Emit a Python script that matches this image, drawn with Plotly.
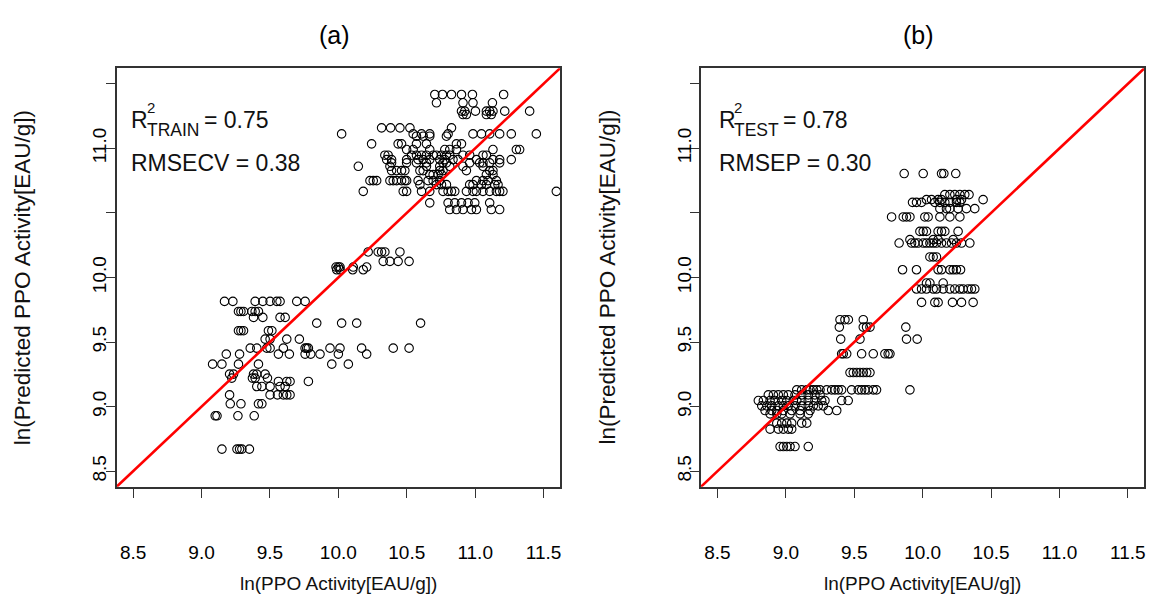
import plotly.graph_objects as go

# ---------------- data ----------------
# Panel (a): training set, grouped by predicted level (y) -> measured values (x)
train_levels = [11.417, 11.353, 11.288, 11.262, 11.159, 11.112, 11.094, 11.035, 10.991, 10.947,
                10.913, 10.888, 10.861, 10.828, 10.797, 10.750, 10.719, 10.667, 10.578, 10.526,
                10.198, 10.125, 10.081, 10.060, 9.815, 9.737, 9.691, 9.647, 9.588, 9.523,
                9.453, 9.407, 9.329, 9.252, 9.221, 9.195, 9.156, 9.091, 9.022, 8.929, 8.671]
train_rows = [
    [10.705, 10.761, 10.827, 10.900, 10.980, 11.208],
    [10.717, 10.911, 10.984, 11.126],
    [10.900, 10.924, 11.002, 11.082, 11.106, 11.130, 11.216, 11.398],
    [10.911, 10.936, 11.082, 11.118],
    [10.316, 10.382, 10.450, 10.523, 10.827],
    [10.024, 10.547, 10.608, 10.668, 10.802, 10.984, 11.046, 11.106, 11.179, 11.264, 11.447],
    [10.571, 10.620, 10.668, 10.790],
    [10.243, 10.437, 10.462, 10.571, 10.644, 10.863, 10.900],
    [10.499, 10.547, 10.668, 10.778, 10.814, 10.863, 11.130, 11.301, 11.325],
    [10.340, 10.364, 10.535, 10.571, 10.608, 10.644, 10.693, 10.717, 10.754, 10.790, 10.814, 10.911, 10.960, 11.057, 11.082],
    [10.353, 10.389, 10.499, 10.583, 10.620, 10.668, 10.741, 10.778, 10.838, 10.875, 11.009, 11.130, 11.179, 11.264],
    [10.389, 10.499, 10.571, 10.644, 10.765, 10.790, 10.960, 11.033, 11.057, 11.106, 11.179],
    [10.146, 10.377, 10.644, 10.741, 10.814, 10.911, 11.057],
    [10.389, 10.426, 10.462, 10.486, 10.596, 10.620, 10.741, 10.765, 10.936, 11.106, 11.130],
    [10.668, 10.693, 10.729, 10.754, 11.082, 11.130],
    [10.231, 10.255, 10.280, 10.377, 10.401, 10.426, 10.462, 10.486, 10.499, 10.583, 10.656, 10.693, 10.741, 11.009, 11.057, 11.094, 11.155],
    [10.596, 10.717, 10.754, 10.790, 10.960, 10.984, 11.046, 11.082, 11.143, 11.167],
    [10.182, 10.474, 10.499, 10.608, 10.668, 10.765, 10.802, 10.827, 10.851, 10.936, 10.984, 11.009, 11.057, 11.106, 11.155, 11.179, 11.203, 11.593],
    [10.668, 10.802, 10.851, 10.900, 10.948, 10.997, 11.106],
    [10.814, 10.863, 10.911, 10.973, 11.009, 11.118, 11.179],
    [10.218, 10.291, 10.316, 10.340, 10.450],
    [10.328, 10.377, 10.437, 10.517],
    [9.983, 10.000, 10.012, 10.109, 10.207],
    [9.988, 10.012, 10.105, 10.182],
    [9.168, 9.229, 9.392, 9.448, 9.501, 9.550, 9.574, 9.696, 9.757],
    [9.270, 9.288, 9.307, 9.368, 9.392, 9.416],
    [9.380, 9.448, 9.574, 9.611],
    [9.842, 10.024, 10.134, 10.601],
    [9.270, 9.288, 9.307, 9.489, 9.514],
    [9.465, 9.501, 9.623, 9.715],
    [9.356, 9.404, 9.477, 9.501, 9.598, 9.757, 9.769, 9.781, 9.939, 10.012, 10.170, 10.401, 10.517],
    [9.181, 9.278, 9.562, 9.642, 9.757, 9.798, 9.866, 10.000, 10.207],
    [9.081, 9.149, 9.270, 9.416, 9.952, 10.073],
    [9.205, 9.234, 9.380, 9.404, 9.465],
    [9.221, 9.372, 9.392, 9.482],
    [9.562, 9.623, 9.647, 9.781],
    [9.404, 9.441, 9.501, 9.574, 9.611],
    [9.205, 9.501, 9.555, 9.598, 9.623, 9.647],
    [9.210, 9.288, 9.416, 9.441],
    [9.100, 9.113, 9.266, 9.385],
    [9.149, 9.259, 9.278, 9.295, 9.350],
]

# Panel (b): test set
test_levels = [10.805, 10.642, 10.603, 10.582, 10.533, 10.469, 10.357, 10.293, 10.267, 10.159,
               10.060, 9.957, 9.911, 9.807, 9.673, 9.616, 9.523, 9.409, 9.264, 9.130,
               9.091, 9.047, 9.006, 8.970, 8.944, 8.872, 8.826, 8.691]
test_rows = [
    [9.865, 10.004, 10.138, 10.155, 10.242],
    [10.162, 10.199, 10.235, 10.272, 10.308, 10.339],
    [10.028, 10.065, 10.113, 10.138, 10.247, 10.284, 10.442],
    [9.926, 9.955, 9.992, 10.089, 10.126, 10.162, 10.199, 10.247, 10.272],
    [10.126, 10.174, 10.199, 10.259, 10.320, 10.381],
    [9.773, 9.858, 9.882, 9.907, 10.016, 10.040, 10.126, 10.199, 10.272],
    [9.980, 10.004, 10.028, 10.113, 10.138, 10.162, 10.259],
    [9.907, 10.077, 10.113, 10.223],
    [9.828, 9.919, 9.943, 9.967, 10.004, 10.028, 10.053, 10.077, 10.101, 10.138, 10.174, 10.211, 10.247, 10.284, 10.345],
    [10.053, 10.077, 10.101],
    [9.853, 9.955, 10.113, 10.138, 10.199, 10.223, 10.247, 10.277],
    [10.028, 10.053, 10.150],
    [9.955, 9.992, 10.028, 10.077, 10.101, 10.150, 10.199, 10.235, 10.272, 10.296, 10.332, 10.357, 10.381],
    [9.992, 10.089, 10.113, 10.218, 10.284, 10.369],
    [9.396, 9.432, 9.457, 9.566],
    [9.391, 9.566, 9.590, 9.615, 9.877],
    [9.401, 9.542, 9.882, 9.960],
    [9.408, 9.420, 9.445, 9.554, 9.639, 9.724, 9.748, 9.761],
    [9.469, 9.493, 9.518, 9.542, 9.566, 9.591, 9.615],
    [9.080, 9.116, 9.153, 9.177, 9.201, 9.226, 9.250, 9.299, 9.335, 9.359, 9.383, 9.408, 9.481, 9.529, 9.554, 9.578, 9.602, 9.639, 9.663, 9.907],
    [8.872, 8.909, 8.945, 8.982, 9.018, 9.067, 9.116, 9.164, 9.213, 9.250],
    [8.799, 8.836, 8.885, 8.921, 8.970, 9.007, 9.055, 9.080, 9.116, 9.164, 9.213, 9.262, 9.286, 9.408, 9.456],
    [8.824, 8.861, 8.897, 8.945, 8.982, 9.018, 9.067, 9.116, 9.164, 9.201, 9.237, 9.274],
    [8.848, 8.897, 8.934, 8.982, 9.043, 9.104, 9.177, 9.310, 9.372],
    [8.885, 8.934, 8.970, 9.031, 9.104, 9.164],
    [8.934, 8.970, 9.007, 9.043, 9.116, 9.153],
    [8.885, 8.945, 8.982, 9.018, 9.043],
    [8.958, 8.982, 9.007, 9.031, 9.067, 9.164],
]

tick_vals = [8.5, 9.0, 9.5, 10.0, 10.5, 11.0, 11.5]
x_tick_text = ["8.5", "9.0", "9.5", "10.0", "10.5", "11.0", "11.5"]
y_tick_text = ["8.5", "9.0", "9.5", "10.0", "", "11.0", ""]
axis_range = [8.38, 11.62]
identity_line = [8.3, 11.7]

panel_titles = ["(a)", "(b)"]
stat_subscripts = ["TRAIN", "TEST"]
stat_r2 = ["= 0.75", "= 0.78"]
stat_err = ["RMSECV = 0.38", "RMSEP = 0.30"]
x_title = "ln(PPO Activity[EAU/g])"
y_title = "ln(Predicted PPO Activity[EAU/g])"

# ---------------- build ----------------
def flatten(levels, rows):
    xs, ys = [], []
    for lv, row in zip(levels, rows):
        for v in row:
            xs.append(v)
            ys.append(lv)
    return xs, ys

train_x, train_y = flatten(train_levels, train_rows)
test_x, test_y = flatten(test_levels, test_rows)

OFF = 8            # default page margin of the html body
W, H = 1154 - OFF, 603 - OFF
FONT = "Liberation Sans, Arial, sans-serif"

def px(x):
    return (x - OFF) / W

def py(y):
    return 1 - (y - OFF) / H

fig = go.Figure()

marker = dict(symbol="circle-open", size=8.5, color="black", line=dict(width=1.1, color="black"))
fig.add_trace(go.Scatter(x=train_x, y=train_y, mode="markers", marker=marker, xaxis="x", yaxis="y"))
fig.add_trace(go.Scatter(x=test_x, y=test_y, mode="markers", marker=marker, xaxis="x2", yaxis="y2"))
red = dict(color="#ff0000", width=2.6)
fig.add_trace(go.Scatter(x=identity_line, y=identity_line, mode="lines", line=red, xaxis="x", yaxis="y"))
fig.add_trace(go.Scatter(x=identity_line, y=identity_line, mode="lines", line=red, xaxis="x2", yaxis="y2"))

frame = dict(showline=True, mirror=True, linecolor="#333333", linewidth=1.5,
             showgrid=False, zeroline=False, range=axis_range, autorange=False,
             tickvals=tick_vals, ticks="outside", tickwidth=1, tickcolor="#333333",
             tickfont=dict(family=FONT, size=19, color="black"))

ydom = [py(486.7), py(68.3)]
xdom_a = [px(116.7), px(560)]
xdom_b = [px(701), px(1144.3)]

fig.update_layout(
    width=W, height=H,
    margin=dict(l=0, r=0, t=0, b=0),
    paper_bgcolor="white", plot_bgcolor="white",
    showlegend=False,
    xaxis=dict(domain=xdom_a, anchor="y", ticktext=x_tick_text, ticklen=10, ticklabelstandoff=38, **frame),
    yaxis=dict(domain=ydom, anchor="x", ticktext=y_tick_text, tickangle=-90, ticklen=9, ticklabelstandoff=-8, **frame),
    xaxis2=dict(domain=xdom_b, anchor="y2", ticktext=x_tick_text, ticklen=10, ticklabelstandoff=38, **frame),
    yaxis2=dict(domain=ydom, anchor="x2", ticktext=y_tick_text, tickangle=-90, ticklen=9, ticklabelstandoff=-8, **frame),
)

ann = []
title_x = [334, 918]
stat_left = [131.2, 718.5]
sub_width = [52.5, 44.7]
for i, (x0, x1) in enumerate([xdom_a, xdom_b]):
    cx = (x0 + x1) / 2
    left_px = x0 * W + OFF
    # panel title
    ann.append(dict(x=px(title_x[i]), y=py(35), text=panel_titles[i], font=dict(family=FONT, size=25, color="black")))
    # x axis title
    ann.append(dict(x=cx, y=py(583), text=x_title, font=dict(family=FONT, size=19, color="#111111")))
    # y axis title
    ann.append(dict(x=px(left_px - 94), y=py(277.5), text=y_title, textangle=-90,
                    font=dict(family=FONT, size=22.5, color="#111111")))
    # stats
    tx = stat_left[i]
    ann.append(dict(x=px(tx), y=py(120), text="R", xanchor="left",
                    font=dict(family=FONT, size=23, color="#111111")))
    ann.append(dict(x=px(tx + 15.8), y=py(107.5), text="2", xanchor="left",
                    font=dict(family=FONT, size=15, color="#111111")))
    ann.append(dict(x=px(tx + 15.8), y=py(130), text=stat_subscripts[i], xanchor="left",
                    font=dict(family=FONT, size=17.5, color="#111111")))
    ann.append(dict(x=px(tx + 15.8 + sub_width[i] + 4), y=py(120), text=stat_r2[i], xanchor="left",
                    font=dict(family=FONT, size=23, color="#111111")))
    ann.append(dict(x=px(tx), y=py(163.5), text=stat_err[i], xanchor="left",
                    font=dict(family=FONT, size=23, color="#111111")))

for a in ann:
    a.update(xref="paper", yref="paper", showarrow=False, borderpad=0, borderwidth=0)
    a.setdefault("xanchor", "center")
    a.setdefault("yanchor", "middle")
fig.update_layout(annotations=ann)

fig.write_html("out.html")
